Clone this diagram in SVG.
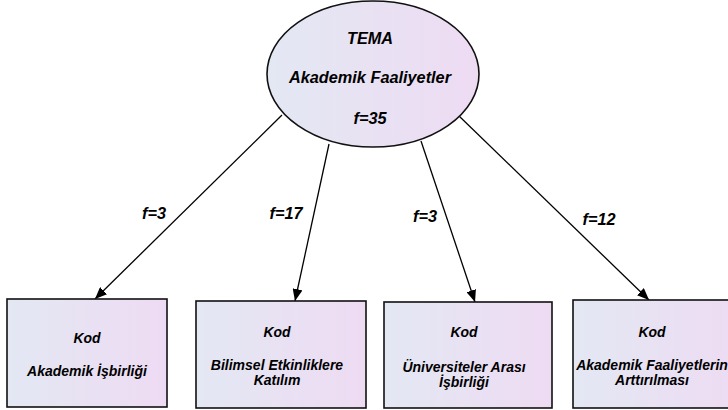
<svg xmlns="http://www.w3.org/2000/svg" width="728" height="410" viewBox="0 0 728 410">
<defs>
<linearGradient id="g" x1="0" y1="0" x2="1" y2="0">
<stop offset="0" stop-color="#e3e8f3"/>
<stop offset="1" stop-color="#eedbf3"/>
</linearGradient>
<marker id="ah" viewBox="0 0 12 10" refX="12" refY="5" markerWidth="12" markerHeight="10" markerUnits="userSpaceOnUse" orient="auto">
<path d="M0,0 L12,5 L0,10 Z" fill="#000"/>
</marker>
<style>
.shape{fill:url(#g);stroke:#111;stroke-width:1.6}
.t{font-family:"Liberation Sans",Arial,sans-serif;font-weight:bold;font-style:italic;fill:#000;text-anchor:middle}
.big{font-size:16.3px}
.sm{font-size:14px}
.c{stroke:#000;stroke-width:1.3;fill:none;marker-end:url(#ah)}
</style>
</defs>
<rect width="728" height="410" fill="#fff"/>
<g id="connectors">
<line class="c" x1="282" y1="115" x2="95" y2="299"/>
<line class="c" x1="329" y1="144" x2="295" y2="301"/>
<line class="c" x1="421" y1="141" x2="475" y2="302"/>
<line class="c" x1="458" y1="115" x2="649" y2="300"/>
<text class="t big" x="154" y="219">f=3</text>
<text class="t big" x="286" y="219">f=17</text>
<text class="t big" x="425" y="222">f=3</text>
<text class="t big" x="599" y="225">f=12</text>
</g>
<g id="tema">
<ellipse class="shape" cx="373" cy="74" rx="106" ry="73"/>
<text class="t big" x="370" y="44">TEMA</text>
<text class="t big" x="370" y="83">Akademik Faaliyetler</text>
<text class="t big" x="370" y="124">f=35</text>
</g>
<g id="kod1">
<rect class="shape" x="7" y="299" width="160" height="108"/>
<text class="t sm" x="87" y="343">Kod</text>
<text class="t sm" x="87" y="376">Akademik İşbirliği</text>
</g>
<g id="kod2">
<rect class="shape" x="196" y="301" width="170" height="107"/>
<text class="t sm" x="277" y="337">Kod</text>
<text class="t sm" x="277" y="370">Bilimsel Etkinliklere</text>
<text class="t sm" x="277" y="385">Katılım</text>
</g>
<g id="kod3">
<rect class="shape" x="384" y="302" width="168" height="106"/>
<text class="t sm" x="464" y="337">Kod</text>
<text class="t sm" x="464" y="372">Üniversiteler Arası</text>
<text class="t sm" x="464" y="387">İşbirliği</text>
</g>
<g id="kod4">
<rect class="shape" x="573" y="300" width="170" height="108"/>
<text class="t sm" x="652" y="337">Kod</text>
<text class="t sm" x="652" y="370">Akademik Faaliyetlerin</text>
<text class="t sm" x="652" y="385">Arttırılması</text>
</g>
</svg>
